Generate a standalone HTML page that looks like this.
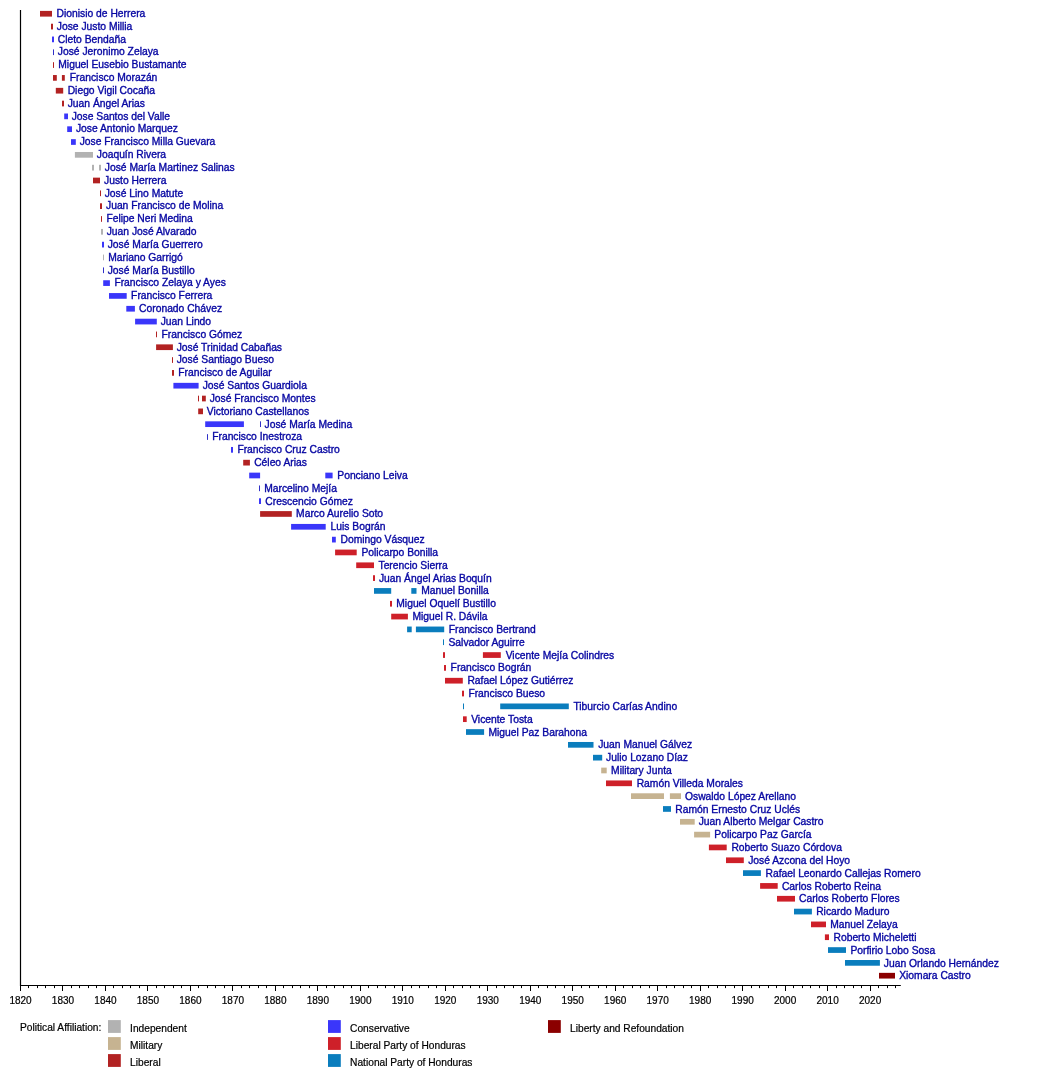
<!DOCTYPE html>
<html><head><meta charset="utf-8"><title>Presidents of Honduras timeline</title>
<style>
html,body{margin:0;padding:0;background:#fff}
svg{display:block}
text{font-family:"Liberation Sans",sans-serif}
.n{font-size:10.3px;fill:#0606A2;stroke:#0606A2;stroke-width:.35px}
.a{font-size:10.0px;fill:#000;stroke:#000;stroke-width:.2px;text-anchor:middle}
.l{font-size:10.2px;fill:#000;stroke:#000;stroke-width:.2px}
</style></head><body>
<svg width="1050" height="1085" viewBox="0 0 1050 1085">
<rect width="1050" height="1085" fill="#fff"/>

<rect x="40.00" y="10.90" width="12.00" height="5.70" fill="#B22222"/>
<text class="n" x="56.60" y="16.90">Dionisio de Herrera</text>
<rect x="51.00" y="23.73" width="2.00" height="5.70" fill="#B22222"/>
<text class="n" x="56.80" y="29.73">Jose Justo Millia</text>
<rect x="52.00" y="36.55" width="2.00" height="5.70" fill="#3A36FA"/>
<text class="n" x="57.80" y="42.57">Cleto Bendaña</text>
<rect x="53.00" y="49.38" width="1.00" height="5.70" fill="#3030C8"/>
<text class="n" x="57.80" y="55.40">José Jeronimo Zelaya</text>
<rect x="53.00" y="62.20" width="1.00" height="5.70" fill="#B22222"/>
<text class="n" x="58.30" y="68.23">Miguel Eusebio Bustamante</text>
<rect x="53.00" y="75.03" width="3.80" height="5.70" fill="#B22222"/>
<rect x="61.90" y="75.03" width="2.90" height="5.70" fill="#B22222"/>
<text class="n" x="69.80" y="81.06">Francisco Morazán</text>
<rect x="55.80" y="87.86" width="7.40" height="5.70" fill="#B22222"/>
<text class="n" x="67.70" y="93.90">Diego Vigil Cocaña</text>
<rect x="62.00" y="100.68" width="2.00" height="5.70" fill="#B22222"/>
<text class="n" x="67.70" y="106.73">Juan Ángel Arias</text>
<rect x="64.20" y="113.51" width="3.80" height="5.70" fill="#3A36FA"/>
<text class="n" x="71.70" y="119.56">Jose Santos del Valle</text>
<rect x="67.20" y="126.33" width="4.80" height="5.70" fill="#3A36FA"/>
<text class="n" x="75.90" y="132.40">Jose Antonio Marquez</text>
<rect x="71.00" y="139.16" width="4.80" height="5.70" fill="#3A36FA"/>
<text class="n" x="79.70" y="145.23">Jose Francisco Milla Guevara</text>
<rect x="74.90" y="151.99" width="18.10" height="5.70" fill="#B2B2B2"/>
<text class="n" x="96.80" y="158.06">Joaquín Rivera</text>
<rect x="92.00" y="164.81" width="2.00" height="5.70" fill="#B2B2B2"/>
<rect x="99.00" y="164.81" width="2.00" height="5.70" fill="#B2B2B2"/>
<text class="n" x="104.80" y="170.90">José María Martinez Salinas</text>
<rect x="93.00" y="177.64" width="7.00" height="5.70" fill="#B22222"/>
<text class="n" x="104.10" y="183.73">Justo Herrera</text>
<rect x="100.00" y="190.46" width="1.00" height="5.70" fill="#B22222"/>
<text class="n" x="104.70" y="196.56">José Lino Matute</text>
<rect x="100.00" y="203.29" width="2.00" height="5.70" fill="#B22222"/>
<text class="n" x="106.00" y="209.40">Juan Francisco de Molina</text>
<rect x="101.00" y="216.12" width="1.00" height="5.70" fill="#B22222"/>
<text class="n" x="106.40" y="222.23">Felipe Neri Medina</text>
<rect x="101.00" y="228.94" width="2.00" height="5.70" fill="#B2B2B2"/>
<text class="n" x="106.70" y="235.06">Juan José Alvarado</text>
<rect x="102.00" y="241.77" width="2.00" height="5.70" fill="#3A36FA"/>
<text class="n" x="107.70" y="247.89">José María Guerrero</text>
<rect x="103.00" y="254.59" width="1.00" height="5.70" fill="#B2B2B2"/>
<text class="n" x="108.30" y="260.73">Mariano Garrigó</text>
<rect x="103.00" y="267.42" width="1.00" height="5.70" fill="#3030C8"/>
<text class="n" x="107.70" y="273.56">José María Bustillo</text>
<rect x="103.20" y="280.25" width="6.70" height="5.70" fill="#3A36FA"/>
<text class="n" x="114.40" y="286.39">Francisco Zelaya y Ayes</text>
<rect x="109.00" y="293.07" width="17.70" height="5.70" fill="#3A36FA"/>
<text class="n" x="131.10" y="299.23">Francisco Ferrera</text>
<rect x="126.30" y="305.90" width="8.60" height="5.70" fill="#3A36FA"/>
<text class="n" x="139.10" y="312.06">Coronado Chávez</text>
<rect x="135.10" y="318.72" width="21.70" height="5.70" fill="#3A36FA"/>
<text class="n" x="160.70" y="324.89">Juan Lindo</text>
<rect x="156.00" y="331.55" width="1.00" height="5.70" fill="#B22222"/>
<text class="n" x="161.50" y="337.72">Francisco Gómez</text>
<rect x="156.10" y="344.38" width="16.80" height="5.70" fill="#B22222"/>
<text class="n" x="176.70" y="350.56">José Trinidad Cabañas</text>
<rect x="172.00" y="357.20" width="1.00" height="5.70" fill="#B22222"/>
<text class="n" x="176.70" y="363.39">José Santiago Bueso</text>
<rect x="172.00" y="370.03" width="2.00" height="5.70" fill="#B22222"/>
<text class="n" x="178.30" y="376.22">Francisco de Aguilar</text>
<rect x="173.40" y="382.85" width="25.20" height="5.70" fill="#3A36FA"/>
<text class="n" x="202.70" y="389.06">José Santos Guardiola</text>
<rect x="198.00" y="395.68" width="1.00" height="5.70" fill="#B22222"/>
<rect x="202.00" y="395.68" width="3.80" height="5.70" fill="#B22222"/>
<text class="n" x="209.70" y="401.89">José Francisco Montes</text>
<rect x="198.20" y="408.51" width="4.80" height="5.70" fill="#B22222"/>
<text class="n" x="206.80" y="414.72">Victoriano Castellanos</text>
<rect x="205.20" y="421.33" width="38.70" height="5.70" fill="#3A36FA"/>
<rect x="260.00" y="421.33" width="1.00" height="5.70" fill="#3030C8"/>
<text class="n" x="264.60" y="427.56">José María Medina</text>
<rect x="207.00" y="434.16" width="1.00" height="5.70" fill="#3030C8"/>
<text class="n" x="212.20" y="440.39">Francisco Inestroza</text>
<rect x="231.00" y="446.98" width="2.00" height="5.70" fill="#3A36FA"/>
<text class="n" x="237.40" y="453.22">Francisco Cruz Castro</text>
<rect x="243.20" y="459.81" width="6.70" height="5.70" fill="#B22222"/>
<text class="n" x="254.20" y="466.06">Céleo Arias</text>
<rect x="249.20" y="472.64" width="10.90" height="5.70" fill="#3A36FA"/>
<rect x="325.30" y="472.64" width="7.30" height="5.70" fill="#3A36FA"/>
<text class="n" x="337.30" y="478.89">Ponciano Leiva</text>
<rect x="259.00" y="485.46" width="1.00" height="5.70" fill="#3030C8"/>
<text class="n" x="264.20" y="491.72">Marcelino Mejía</text>
<rect x="259.00" y="498.29" width="2.00" height="5.70" fill="#3A36FA"/>
<text class="n" x="265.30" y="504.55">Crescencio Gómez</text>
<rect x="260.10" y="511.11" width="31.70" height="5.70" fill="#B22222"/>
<text class="n" x="296.10" y="517.39">Marco Aurelio Soto</text>
<rect x="291.10" y="523.94" width="34.60" height="5.70" fill="#3A36FA"/>
<text class="n" x="330.60" y="530.22">Luis Bográn</text>
<rect x="332.00" y="536.77" width="3.80" height="5.70" fill="#3A36FA"/>
<text class="n" x="340.50" y="543.05">Domingo Vásquez</text>
<rect x="335.10" y="549.59" width="21.60" height="5.70" fill="#CE2029"/>
<text class="n" x="361.40" y="555.89">Policarpo Bonilla</text>
<rect x="356.20" y="562.42" width="17.80" height="5.70" fill="#CE2029"/>
<text class="n" x="378.50" y="568.72">Terencio Sierra</text>
<rect x="373.00" y="575.24" width="2.00" height="5.70" fill="#CE2029"/>
<text class="n" x="378.90" y="581.55">Juan Ángel Arias Boquín</text>
<rect x="374.00" y="588.07" width="17.20" height="5.70" fill="#0A7DBD"/>
<rect x="411.30" y="588.07" width="5.20" height="5.70" fill="#0A7DBD"/>
<text class="n" x="421.30" y="594.38">Manuel Bonilla</text>
<rect x="390.00" y="600.90" width="2.00" height="5.70" fill="#CE2029"/>
<text class="n" x="396.30" y="607.22">Miguel Oquelí Bustillo</text>
<rect x="391.20" y="613.72" width="16.70" height="5.70" fill="#CE2029"/>
<text class="n" x="412.50" y="620.05">Miguel R. Dávila</text>
<rect x="407.10" y="626.55" width="4.60" height="5.70" fill="#0A7DBD"/>
<rect x="415.90" y="626.55" width="28.30" height="5.70" fill="#0A7DBD"/>
<text class="n" x="448.70" y="632.88">Francisco Bertrand</text>
<rect x="443.00" y="639.37" width="1.00" height="5.70" fill="#0A7DBD"/>
<text class="n" x="448.50" y="645.72">Salvador Aguirre</text>
<rect x="443.00" y="652.20" width="2.00" height="5.70" fill="#CE2029"/>
<rect x="482.90" y="652.20" width="17.90" height="5.70" fill="#CE2029"/>
<text class="n" x="505.70" y="658.55">Vicente Mejía Colindres</text>
<rect x="444.00" y="665.03" width="2.00" height="5.70" fill="#CE2029"/>
<text class="n" x="450.60" y="671.38">Francisco Bográn</text>
<rect x="445.00" y="677.85" width="17.80" height="5.70" fill="#CE2029"/>
<text class="n" x="467.40" y="684.22">Rafael López Gutiérrez</text>
<rect x="462.00" y="690.68" width="2.00" height="5.70" fill="#CE2029"/>
<text class="n" x="468.40" y="697.05">Francisco Bueso</text>
<rect x="463.00" y="703.50" width="1.00" height="5.70" fill="#0A7DBD"/>
<rect x="500.20" y="703.50" width="68.60" height="5.70" fill="#0A7DBD"/>
<text class="n" x="573.40" y="709.88">Tiburcio Carías Andino</text>
<rect x="463.00" y="716.33" width="3.70" height="5.70" fill="#CE2029"/>
<text class="n" x="471.20" y="722.72">Vicente Tosta</text>
<rect x="466.00" y="729.16" width="18.10" height="5.70" fill="#0A7DBD"/>
<text class="n" x="488.50" y="735.55">Miguel Paz Barahona</text>
<rect x="568.00" y="741.98" width="25.50" height="5.70" fill="#0A7DBD"/>
<text class="n" x="598.20" y="748.38">Juan Manuel Gálvez</text>
<rect x="593.00" y="754.81" width="9.20" height="5.70" fill="#0A7DBD"/>
<text class="n" x="606.10" y="761.21">Julio Lozano Díaz</text>
<rect x="601.20" y="767.63" width="5.50" height="5.70" fill="#C6B391"/>
<text class="n" x="611.10" y="774.05">Military Junta</text>
<rect x="606.00" y="780.46" width="26.00" height="5.70" fill="#CE2029"/>
<text class="n" x="636.70" y="786.88">Ramón Villeda Morales</text>
<rect x="631.00" y="793.29" width="33.00" height="5.70" fill="#C6B391"/>
<rect x="669.90" y="793.29" width="11.10" height="5.70" fill="#C6B391"/>
<text class="n" x="685.00" y="799.71">Oswaldo López Arellano</text>
<rect x="663.00" y="806.11" width="8.00" height="5.70" fill="#0A7DBD"/>
<text class="n" x="675.30" y="812.55">Ramón Ernesto Cruz Uclés</text>
<rect x="680.00" y="818.94" width="14.70" height="5.70" fill="#C6B391"/>
<text class="n" x="698.70" y="825.38">Juan Alberto Melgar Castro</text>
<rect x="694.10" y="831.76" width="16.00" height="5.70" fill="#C6B391"/>
<text class="n" x="714.30" y="838.21">Policarpo Paz García</text>
<rect x="708.90" y="844.59" width="17.80" height="5.70" fill="#CE2029"/>
<text class="n" x="731.40" y="851.04">Roberto Suazo Córdova</text>
<rect x="726.00" y="857.42" width="17.80" height="5.70" fill="#CE2029"/>
<text class="n" x="748.20" y="863.88">José Azcona del Hoyo</text>
<rect x="743.00" y="870.24" width="17.90" height="5.70" fill="#0A7DBD"/>
<text class="n" x="765.50" y="876.71">Rafael Leonardo Callejas Romero</text>
<rect x="760.10" y="883.07" width="17.60" height="5.70" fill="#CE2029"/>
<text class="n" x="781.90" y="889.54">Carlos Roberto Reina</text>
<rect x="777.00" y="895.89" width="18.00" height="5.70" fill="#CE2029"/>
<text class="n" x="799.00" y="902.38">Carlos Roberto Flores</text>
<rect x="794.00" y="908.72" width="17.90" height="5.70" fill="#0A7DBD"/>
<text class="n" x="816.20" y="915.21">Ricardo Maduro</text>
<rect x="811.00" y="921.55" width="15.00" height="5.70" fill="#CE2029"/>
<text class="n" x="830.20" y="928.04">Manuel Zelaya</text>
<rect x="824.90" y="934.37" width="4.10" height="5.70" fill="#CE2029"/>
<text class="n" x="833.50" y="940.88">Roberto Micheletti</text>
<rect x="828.00" y="947.20" width="18.00" height="5.70" fill="#0A7DBD"/>
<text class="n" x="850.40" y="953.71">Porfirio Lobo Sosa</text>
<rect x="845.00" y="960.02" width="34.90" height="5.70" fill="#0A7DBD"/>
<text class="n" x="883.80" y="966.54">Juan Orlando Hernández</text>
<rect x="879.00" y="972.85" width="16.00" height="5.70" fill="#8B0000"/>
<text class="n" x="899.20" y="979.38">Xiomara Castro</text>
<path d="M20.50 10V985.5H900.8" fill="none" stroke="#000" stroke-width="1.2"/>
<path d="M20.50 985.5v5.5M28.50 985.5v2.6M37.50 985.5v2.6M45.50 985.5v2.6M54.50 985.5v2.6M62.50 985.5v5.5M71.50 985.5v2.6M79.50 985.5v2.6M88.50 985.5v2.6M96.50 985.5v2.6M105.50 985.5v5.5M113.50 985.5v2.6M122.50 985.5v2.6M130.50 985.5v2.6M139.50 985.5v2.6M147.50 985.5v5.5M156.50 985.5v2.6M164.50 985.5v2.6M173.50 985.5v2.6M181.50 985.5v2.6M190.50 985.5v5.5M198.50 985.5v2.6M207.50 985.5v2.6M215.50 985.5v2.6M224.50 985.5v2.6M232.50 985.5v5.5M241.50 985.5v2.6M249.50 985.5v2.6M258.50 985.5v2.6M266.50 985.5v2.6M275.50 985.5v5.5M283.50 985.5v2.6M292.50 985.5v2.6M300.50 985.5v2.6M309.50 985.5v2.6M317.50 985.5v5.5M326.50 985.5v2.6M334.50 985.5v2.6M343.50 985.5v2.6M351.50 985.5v2.6M360.50 985.5v5.5M368.50 985.5v2.6M377.50 985.5v2.6M385.50 985.5v2.6M394.50 985.5v2.6M402.50 985.5v5.5M411.50 985.5v2.6M419.50 985.5v2.6M428.50 985.5v2.6M436.50 985.5v2.6M445.50 985.5v5.5M453.50 985.5v2.6M462.50 985.5v2.6M470.50 985.5v2.6M479.50 985.5v2.6M487.50 985.5v5.5M496.50 985.5v2.6M504.50 985.5v2.6M513.50 985.5v2.6M521.50 985.5v2.6M530.50 985.5v5.5M538.50 985.5v2.6M547.50 985.5v2.6M555.50 985.5v2.6M564.50 985.5v2.6M572.50 985.5v5.5M581.50 985.5v2.6M589.50 985.5v2.6M598.50 985.5v2.6M606.50 985.5v2.6M615.50 985.5v5.5M623.50 985.5v2.6M632.50 985.5v2.6M640.50 985.5v2.6M649.50 985.5v2.6M657.50 985.5v5.5M666.50 985.5v2.6M674.50 985.5v2.6M683.50 985.5v2.6M691.50 985.5v2.6M700.50 985.5v5.5M708.50 985.5v2.6M717.50 985.5v2.6M725.50 985.5v2.6M734.50 985.5v2.6M742.50 985.5v5.5M751.50 985.5v2.6M759.50 985.5v2.6M768.50 985.5v2.6M776.50 985.5v2.6M785.50 985.5v5.5M793.50 985.5v2.6M802.50 985.5v2.6M810.50 985.5v2.6M819.50 985.5v2.6M827.50 985.5v5.5M836.50 985.5v2.6M844.50 985.5v2.6M853.50 985.5v2.6M861.50 985.5v2.6M870.50 985.5v5.5M878.50 985.5v2.6M887.50 985.5v2.6M895.50 985.5v2.6" fill="none" stroke="#000" stroke-width="1"/>
<text class="a" x="20.50" y="1004.3">1820</text>
<text class="a" x="62.98" y="1004.3">1830</text>
<text class="a" x="105.46" y="1004.3">1840</text>
<text class="a" x="147.94" y="1004.3">1850</text>
<text class="a" x="190.42" y="1004.3">1860</text>
<text class="a" x="232.90" y="1004.3">1870</text>
<text class="a" x="275.38" y="1004.3">1880</text>
<text class="a" x="317.86" y="1004.3">1890</text>
<text class="a" x="360.34" y="1004.3">1900</text>
<text class="a" x="402.82" y="1004.3">1910</text>
<text class="a" x="445.30" y="1004.3">1920</text>
<text class="a" x="487.78" y="1004.3">1930</text>
<text class="a" x="530.26" y="1004.3">1940</text>
<text class="a" x="572.74" y="1004.3">1950</text>
<text class="a" x="615.22" y="1004.3">1960</text>
<text class="a" x="657.70" y="1004.3">1970</text>
<text class="a" x="700.18" y="1004.3">1980</text>
<text class="a" x="742.66" y="1004.3">1990</text>
<text class="a" x="785.14" y="1004.3">2000</text>
<text class="a" x="827.62" y="1004.3">2010</text>
<text class="a" x="870.10" y="1004.3">2020</text>
<text class="l" x="20" y="1031.0">Political Affiliation:</text>
<rect x="108.0" y="1020.1" width="12.8" height="12.8" fill="#B2B2B2"/>
<text class="l" x="130.1" y="1031.9">Independent</text>
<rect x="108.0" y="1037.1" width="12.8" height="12.8" fill="#C6B391"/>
<text class="l" x="130.1" y="1048.9">Military</text>
<rect x="108.0" y="1054.1" width="12.8" height="12.8" fill="#B22222"/>
<text class="l" x="130.1" y="1065.9">Liberal</text>
<rect x="328.0" y="1020.1" width="12.8" height="12.8" fill="#3A36FA"/>
<text class="l" x="350.1" y="1031.9">Conservative</text>
<rect x="328.0" y="1037.1" width="12.8" height="12.8" fill="#CE2029"/>
<text class="l" x="350.1" y="1048.9">Liberal Party of Honduras</text>
<rect x="328.0" y="1054.1" width="12.8" height="12.8" fill="#0A7DBD"/>
<text class="l" x="350.1" y="1065.9">National Party of Honduras</text>
<rect x="548.0" y="1020.1" width="12.8" height="12.8" fill="#8B0000"/>
<text class="l" x="570.1" y="1031.9">Liberty and Refoundation</text>
</svg></body></html>
